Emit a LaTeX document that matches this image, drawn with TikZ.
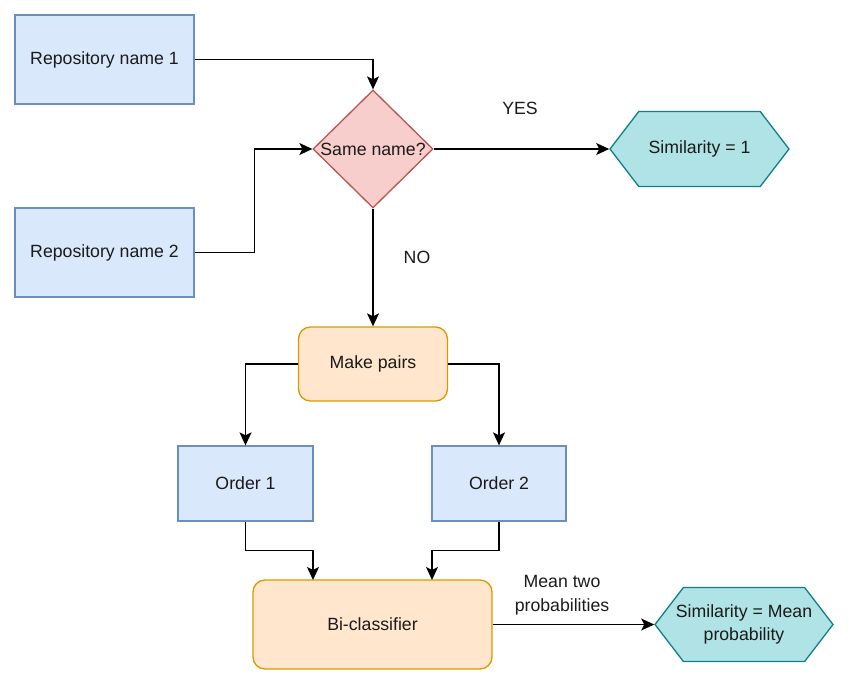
\documentclass[tikz,border=0pt]{standalone}
\usepackage{fontspec}
\setmainfont{Liberation Sans}
\usetikzlibrary{shapes.geometric,shapes.symbols,arrows.meta}
\definecolor{blueF}{HTML}{DAE8FC}
\definecolor{blueS}{HTML}{6C8EBF}
\definecolor{redF}{HTML}{F8CECC}
\definecolor{redS}{HTML}{B85450}
\definecolor{orF}{HTML}{FFE6CC}
\definecolor{orS}{HTML}{D79B00}
\definecolor{tealF}{HTML}{B0E3E6}
\definecolor{tealS}{HTML}{0E8088}
\definecolor{txt}{HTML}{1A1A1A}
\begin{document}
\begin{tikzpicture}[x=1pt,y=-1pt,
  font=\fontsize{17.7}{23.5}\selectfont, text=txt,
  bluebox/.style={draw=blueS, fill=blueF, line width=1.3, inner sep=0},
  orbox/.style={draw=orS, fill=orF, line width=1.3, inner sep=0, rounded corners=12},
  hexbox/.style={signal, signal to=west and east, signal pointer angle=105, draw=tealS, fill=tealF, line width=1.3, inner sep=0, align=center},
  conn/.style={line width=1.3, -{Stealth[length=13,width=12,inset=3]}},
  lbl/.style={inner sep=0, align=center}]
\useasboundingbox (0,0) rectangle (849,686);
\node[bluebox, minimum width=179, minimum height=89] (r1) at (104.5,59.5) {Repository name 1};
\node[bluebox, minimum width=179, minimum height=89] (r2) at (104.5,252.5) {Repository name 2};
\node[diamond, draw=redS, fill=redF, line width=1.3, inner sep=0, minimum width=120, minimum height=118] (d) at (373,149) {};
\node[lbl] (dt) at (d.center) {Same name?};
\node[hexbox, minimum width=179, minimum height=75] (s1) at (699.5,149) {};
\node[lbl] (s1t) at (s1.center) {Similarity = 1};
\node[orbox, minimum width=149, minimum height=74] (mp) at (373,364) {Make pairs};
\node[bluebox, minimum width=135, minimum height=75] (o1) at (245.5,483.5) {Order 1};
\node[bluebox, minimum width=134, minimum height=75] (o2) at (499,483.5) {Order 2};
\node[orbox, minimum width=239, minimum height=89] (bc) at (372.5,624.5) {Bi-classifier};
\node[hexbox, minimum width=178, minimum height=74] (s2) at (744,624.5) {};
\node[lbl] (s2t) at (s2.center) {Similarity = Mean\\probability};
\node[lbl] (yes) at (520,108) {YES};
\node[lbl] (no) at (417,257) {NO};
\node[lbl] (mean) at (562,595) {Mean two\\probabilities};
\coordinate (bc1) at (313,580);
\coordinate (bc2) at (432,580);
\draw[conn] (r1.east) -| (d.north);
\draw[conn] (r2.east) -- ++(60,0) |- (d.west);
\draw[conn] (d.east) -- (s1.west);
\draw[conn] (d.south) -- (mp.north);
\draw[conn] (mp.west) -| (o1.north);
\draw[conn] (mp.east) -| (o2.north);
\draw[conn] (o1.south) -- ++(0,29) -| (bc1);
\draw[conn] (o2.south) -- ++(0,29) -| (bc2);
\draw[conn] (bc.east) -- (s2.west);
\end{tikzpicture}
\end{document}
